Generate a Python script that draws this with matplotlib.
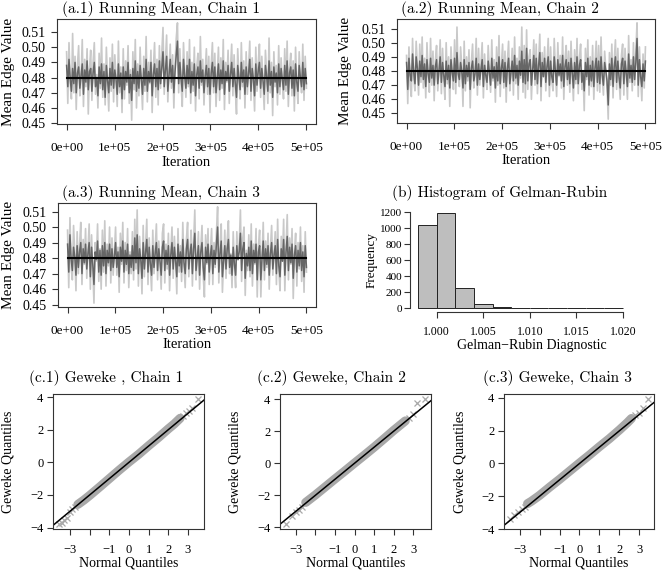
import numpy as np
import matplotlib
matplotlib.use('Agg')
import matplotlib.pyplot as plt

plt.rcParams['font.family'] = ['Liberation Serif', 'DejaVu Serif']

W, H = 662, 573

# running-mean traces, 200 thinned points per chain (light = raw, dark = smoothed)
light_1 = [0.497, 0.463, 0.503, 0.476, 0.466, 0.509, 0.470, 0.494, 0.459, 0.488, 0.501, 0.468, 0.479, 0.505, 0.461, 0.492, 0.474, 0.499, 0.456, 0.486,
           0.498, 0.465, 0.490, 0.503, 0.469, 0.482, 0.460, 0.496, 0.473, 0.506, 0.467, 0.489, 0.462, 0.500, 0.477, 0.458, 0.493, 0.471, 0.502, 0.464,
           0.495, 0.480, 0.461, 0.504, 0.470, 0.487, 0.457, 0.499, 0.466, 0.491, 0.475, 0.501, 0.463, 0.485, 0.452, 0.497, 0.472, 0.505, 0.460, 0.489,
           0.468, 0.500, 0.478, 0.459, 0.494, 0.471, 0.507, 0.464, 0.490, 0.476, 0.498, 0.457, 0.486, 0.503, 0.467, 0.492, 0.462, 0.501, 0.473, 0.496,
           0.513, 0.469, 0.491, 0.508, 0.464, 0.485, 0.502, 0.473, 0.495, 0.460, 0.488, 0.506, 0.516, 0.470, 0.499, 0.476, 0.461, 0.503, 0.482, 0.467,
           0.497, 0.474, 0.505, 0.463, 0.490, 0.471, 0.500, 0.458, 0.487, 0.496, 0.466, 0.507, 0.475, 0.492, 0.462, 0.484, 0.499, 0.469, 0.494, 0.457,
           0.488, 0.503, 0.470, 0.496, 0.461, 0.481, 0.500, 0.465, 0.493, 0.473, 0.505, 0.459, 0.490, 0.477, 0.498, 0.463, 0.486, 0.502, 0.468, 0.495,
           0.472, 0.456, 0.499, 0.480, 0.466, 0.503, 0.474, 0.491, 0.460, 0.497, 0.469, 0.487, 0.504, 0.465, 0.493, 0.478, 0.458, 0.500, 0.471, 0.489,
           0.502, 0.467, 0.494, 0.476, 0.459, 0.498, 0.483, 0.463, 0.506, 0.470, 0.490, 0.455, 0.497, 0.474, 0.488, 0.462, 0.501, 0.469, 0.493, 0.478,
           0.466, 0.499, 0.471, 0.504, 0.461, 0.486, 0.496, 0.468, 0.491, 0.458, 0.500, 0.475, 0.463, 0.497, 0.480, 0.470, 0.502, 0.465, 0.494, 0.473]
dark_1 = [0.488, 0.474, 0.492, 0.479, 0.471, 0.486, 0.476, 0.490, 0.470, 0.483, 0.487, 0.473, 0.481, 0.489, 0.469, 0.485, 0.477, 0.491, 0.472, 0.484,
          0.486, 0.471, 0.483, 0.490, 0.474, 0.480, 0.468, 0.487, 0.476, 0.489, 0.472, 0.484, 0.467, 0.488, 0.478, 0.470, 0.486, 0.475, 0.490, 0.473,
          0.485, 0.479, 0.469, 0.489, 0.474, 0.483, 0.466, 0.487, 0.472, 0.484, 0.477, 0.490, 0.470, 0.482, 0.465, 0.486, 0.476, 0.491, 0.471, 0.484,
          0.473, 0.488, 0.479, 0.469, 0.486, 0.475, 0.492, 0.471, 0.484, 0.477, 0.490, 0.468, 0.482, 0.489, 0.474, 0.486, 0.472, 0.491, 0.476, 0.487,
          0.497, 0.474, 0.485, 0.494, 0.471, 0.482, 0.492, 0.477, 0.488, 0.470, 0.484, 0.495, 0.504, 0.476, 0.490, 0.479, 0.471, 0.492, 0.481, 0.473,
          0.488, 0.476, 0.492, 0.470, 0.484, 0.475, 0.489, 0.468, 0.482, 0.487, 0.473, 0.491, 0.477, 0.485, 0.470, 0.481, 0.488, 0.474, 0.486, 0.469,
          0.483, 0.490, 0.474, 0.487, 0.470, 0.480, 0.489, 0.472, 0.485, 0.476, 0.491, 0.469, 0.484, 0.478, 0.488, 0.471, 0.482, 0.490, 0.474, 0.486,
          0.476, 0.467, 0.488, 0.480, 0.472, 0.490, 0.477, 0.485, 0.469, 0.487, 0.474, 0.483, 0.492, 0.471, 0.486, 0.479, 0.468, 0.489, 0.475, 0.484,
          0.490, 0.473, 0.486, 0.478, 0.469, 0.488, 0.481, 0.471, 0.491, 0.475, 0.484, 0.467, 0.487, 0.477, 0.483, 0.470, 0.489, 0.474, 0.486, 0.479,
          0.472, 0.488, 0.475, 0.491, 0.469, 0.483, 0.487, 0.473, 0.485, 0.468, 0.489, 0.477, 0.471, 0.488, 0.480, 0.474, 0.490, 0.472, 0.486, 0.476]
light_2 = [0.491, 0.457, 0.497, 0.470, 0.462, 0.503, 0.475, 0.466, 0.501, 0.484, 0.463, 0.499, 0.472, 0.504, 0.468, 0.489, 0.461, 0.500, 0.477, 0.465,
           0.503, 0.470, 0.494, 0.459, 0.487, 0.498, 0.466, 0.481, 0.502, 0.464, 0.496, 0.474, 0.460, 0.500, 0.471, 0.490, 0.455, 0.497, 0.479, 0.467,
           0.502, 0.464, 0.511, 0.476, 0.469, 0.497, 0.483, 0.455, 0.501, 0.466, 0.490, 0.473, 0.495, 0.454, 0.486, 0.499, 0.468, 0.478, 0.503, 0.463,
           0.496, 0.470, 0.485, 0.500, 0.461, 0.492, 0.476, 0.467, 0.498, 0.480, 0.465, 0.502, 0.473, 0.488, 0.458, 0.497, 0.470, 0.505, 0.462, 0.484,
           0.499, 0.468, 0.494, 0.458, 0.487, 0.501, 0.466, 0.479, 0.496, 0.463, 0.504, 0.471, 0.489, 0.460, 0.497, 0.475, 0.511, 0.465, 0.498, 0.461,
           0.509, 0.467, 0.490, 0.495, 0.460, 0.483, 0.502, 0.470, 0.499, 0.464, 0.487, 0.506, 0.459, 0.493, 0.476, 0.497, 0.466, 0.485, 0.503, 0.462,
           0.497, 0.473, 0.466, 0.503, 0.481, 0.462, 0.500, 0.476, 0.491, 0.468, 0.504, 0.460, 0.488, 0.498, 0.470, 0.494, 0.465, 0.501, 0.478, 0.459,
           0.495, 0.471, 0.503, 0.464, 0.489, 0.499, 0.467, 0.480, 0.452, 0.496, 0.474, 0.502, 0.463, 0.490, 0.469, 0.498, 0.460, 0.485, 0.501, 0.466,
           0.498, 0.465, 0.504, 0.476, 0.463, 0.494, 0.482, 0.469, 0.446, 0.493, 0.470, 0.499, 0.461, 0.487, 0.502, 0.467, 0.496, 0.474, 0.460, 0.491,
           0.499, 0.463, 0.496, 0.478, 0.460, 0.505, 0.472, 0.488, 0.466, 0.500, 0.470, 0.494, 0.514, 0.462, 0.497, 0.475, 0.459, 0.492, 0.468, 0.497]
dark_2 = [0.486, 0.467, 0.489, 0.477, 0.473, 0.492, 0.479, 0.471, 0.490, 0.482, 0.470, 0.487, 0.476, 0.491, 0.474, 0.485, 0.469, 0.488, 0.478, 0.472,
          0.489, 0.475, 0.484, 0.470, 0.483, 0.488, 0.471, 0.480, 0.490, 0.472, 0.486, 0.477, 0.469, 0.487, 0.474, 0.484, 0.468, 0.488, 0.479, 0.473,
          0.489, 0.472, 0.493, 0.478, 0.474, 0.486, 0.480, 0.468, 0.488, 0.471, 0.484, 0.476, 0.486, 0.467, 0.482, 0.487, 0.473, 0.478, 0.489, 0.470,
          0.485, 0.474, 0.481, 0.488, 0.469, 0.484, 0.477, 0.472, 0.487, 0.479, 0.470, 0.489, 0.475, 0.483, 0.468, 0.486, 0.473, 0.490, 0.471, 0.482,
          0.488, 0.472, 0.486, 0.469, 0.482, 0.489, 0.471, 0.479, 0.487, 0.473, 0.491, 0.475, 0.484, 0.470, 0.487, 0.477, 0.494, 0.472, 0.488, 0.471,
          0.496, 0.473, 0.485, 0.488, 0.470, 0.481, 0.491, 0.474, 0.489, 0.471, 0.484, 0.493, 0.469, 0.486, 0.476, 0.489, 0.472, 0.483, 0.490, 0.470,
          0.487, 0.476, 0.472, 0.490, 0.480, 0.470, 0.488, 0.477, 0.485, 0.473, 0.491, 0.469, 0.483, 0.488, 0.474, 0.486, 0.471, 0.489, 0.478, 0.468,
          0.486, 0.474, 0.490, 0.471, 0.484, 0.488, 0.472, 0.479, 0.466, 0.486, 0.476, 0.489, 0.470, 0.484, 0.473, 0.487, 0.469, 0.482, 0.489, 0.472,
          0.487, 0.471, 0.490, 0.477, 0.470, 0.486, 0.480, 0.473, 0.456, 0.485, 0.474, 0.489, 0.469, 0.483, 0.490, 0.472, 0.487, 0.476, 0.468, 0.485,
          0.489, 0.471, 0.487, 0.478, 0.469, 0.492, 0.475, 0.484, 0.472, 0.490, 0.474, 0.486, 0.503, 0.470, 0.488, 0.476, 0.469, 0.485, 0.473, 0.487]
light_3 = [0.498, 0.461, 0.506, 0.474, 0.466, 0.501, 0.483, 0.459, 0.497, 0.470, 0.488, 0.503, 0.463, 0.492, 0.476, 0.499, 0.467, 0.485, 0.502, 0.460,
           0.495, 0.472, 0.451, 0.490, 0.478, 0.502, 0.465, 0.486, 0.460, 0.498, 0.471, 0.504, 0.462, 0.489, 0.475, 0.500, 0.464, 0.493, 0.469, 0.483,
           0.500, 0.469, 0.487, 0.458, 0.496, 0.476, 0.503, 0.464, 0.490, 0.472, 0.499, 0.461, 0.484, 0.470, 0.497, 0.466, 0.505, 0.473, 0.511, 0.462,
           0.494, 0.479, 0.457, 0.501, 0.468, 0.488, 0.505, 0.463, 0.493, 0.475, 0.459, 0.498, 0.470, 0.486, 0.502, 0.466, 0.491, 0.477, 0.460, 0.496,
           0.502, 0.464, 0.489, 0.473, 0.496, 0.459, 0.484, 0.500, 0.467, 0.494, 0.478, 0.457, 0.499, 0.471, 0.488, 0.465, 0.503, 0.475, 0.461, 0.492,
           0.503, 0.468, 0.485, 0.498, 0.462, 0.490, 0.511, 0.466, 0.480, 0.497, 0.460, 0.487, 0.501, 0.469, 0.455, 0.495, 0.476, 0.499, 0.463, 0.484,
           0.499, 0.463, 0.490, 0.474, 0.496, 0.513, 0.464, 0.486, 0.502, 0.458, 0.478, 0.498, 0.467, 0.492, 0.504, 0.470, 0.483, 0.461, 0.497, 0.474,
           0.461, 0.497, 0.479, 0.488, 0.511, 0.465, 0.493, 0.500, 0.456, 0.485, 0.472, 0.495, 0.468, 0.502, 0.462, 0.489, 0.476, 0.499, 0.455, 0.487,
           0.498, 0.455, 0.480, 0.503, 0.466, 0.491, 0.474, 0.496, 0.460, 0.486, 0.501, 0.469, 0.483, 0.497, 0.463, 0.505, 0.472, 0.459, 0.494, 0.478,
           0.505, 0.459, 0.487, 0.508, 0.466, 0.493, 0.476, 0.499, 0.454, 0.484, 0.496, 0.462, 0.490, 0.473, 0.500, 0.465, 0.488, 0.458, 0.497, 0.471]
dark_3 = [0.489, 0.471, 0.495, 0.479, 0.472, 0.487, 0.481, 0.469, 0.488, 0.474, 0.484, 0.490, 0.470, 0.486, 0.477, 0.489, 0.473, 0.483, 0.490, 0.468,
          0.487, 0.476, 0.463, 0.484, 0.479, 0.491, 0.471, 0.485, 0.469, 0.488, 0.475, 0.490, 0.470, 0.485, 0.477, 0.489, 0.472, 0.486, 0.474, 0.481,
          0.490, 0.474, 0.484, 0.468, 0.487, 0.478, 0.491, 0.471, 0.485, 0.476, 0.489, 0.470, 0.482, 0.474, 0.488, 0.472, 0.493, 0.477, 0.495, 0.470,
          0.486, 0.479, 0.467, 0.490, 0.473, 0.484, 0.492, 0.471, 0.487, 0.476, 0.469, 0.488, 0.474, 0.483, 0.490, 0.472, 0.486, 0.478, 0.469, 0.487,
          0.491, 0.472, 0.485, 0.476, 0.488, 0.469, 0.482, 0.490, 0.473, 0.487, 0.478, 0.468, 0.489, 0.475, 0.484, 0.471, 0.492, 0.477, 0.470, 0.486,
          0.492, 0.473, 0.483, 0.489, 0.470, 0.486, 0.496, 0.472, 0.480, 0.488, 0.469, 0.484, 0.490, 0.474, 0.466, 0.487, 0.477, 0.489, 0.471, 0.482,
          0.488, 0.470, 0.485, 0.476, 0.489, 0.500, 0.471, 0.483, 0.491, 0.468, 0.478, 0.488, 0.473, 0.486, 0.492, 0.474, 0.482, 0.469, 0.487, 0.476,
          0.469, 0.488, 0.479, 0.484, 0.496, 0.472, 0.486, 0.490, 0.467, 0.483, 0.475, 0.487, 0.472, 0.491, 0.470, 0.485, 0.477, 0.489, 0.466, 0.484,
          0.488, 0.466, 0.480, 0.491, 0.472, 0.486, 0.476, 0.488, 0.469, 0.483, 0.490, 0.473, 0.482, 0.488, 0.470, 0.492, 0.475, 0.468, 0.486, 0.478,
          0.492, 0.469, 0.484, 0.494, 0.472, 0.487, 0.477, 0.489, 0.467, 0.482, 0.488, 0.471, 0.485, 0.475, 0.490, 0.472, 0.484, 0.468, 0.488, 0.474]
grand_mean = 0.48
n_iter = 5e5
iter_ticks = [0, 1e5, 2e5, 3e5, 4e5, 5e5]
iter_labels = ["0e+00", "1e+05", "2e+05", "3e+05", "4e+05", "5e+05"]
mean_ticks = [0.45, 0.46, 0.47, 0.48, 0.49, 0.50, 0.51]

# gelman-rubin histogram
gr_left = [0.998, 1.000, 1.002, 1.004, 1.006, 1.008, 1.010, 1.012, 1.014, 1.016, 1.018]
gr_counts = [1040, 1190, 250, 50, 12, 4, 2, 1, 1, 1, 1]
gr_width = 0.002
gr_xticks = [1.000, 1.005, 1.010, 1.015, 1.020]
gr_yticks = [0, 200, 400, 600, 800, 1000, 1200]

# geweke qq points (normal quantile, geweke z)
nq_1 = [-3.58, -3.42, -3.30, -3.15, -3.02, -2.90, -2.75, -2.60, -2.3, -2.0, -1.5, -1.0, -0.5,
        0.0, 0.5, 1.0, 1.5, 2.0, 2.3, 2.6, 2.75, 2.9, 3.05, 3.2, 3.53]
gq_1 = [-3.78, -3.70, -3.55, -3.40, -3.05, -2.88, -2.72, -2.58, -2.32, -2.03, -1.52, -1.0, -0.48,
        0.02, 0.5, 1.02, 1.52, 2.05, 2.35, 2.7, 2.85, 3.0, 3.15, 3.3, 3.88]
nq_2 = [-3.53, -3.2, -3.0, -2.85, -2.7, -2.5, -2.0, -1.5, -1.0, -0.5, 0.0, 0.5, 1.0, 1.5,
        2.0, 2.4, 2.6, 2.8, 3.0, 3.2, 3.63]
gq_2 = [-3.8, -3.3, -3.05, -2.95, -2.75, -2.45, -1.98, -1.48, -0.98, -0.49, 0.01, 0.5, 1.0, 1.52,
        2.05, 2.45, 2.65, 2.85, 3.1, 3.75, 4.02]
nq_3 = [-3.5, -3.3, -3.1, -2.9, -2.75, -2.6, -2.4, -2.0, -1.5, -1.0, -0.5, 0.0, 0.5, 1.0, 1.5,
        2.0, 2.4, 2.6, 2.8, 3.0, 3.2, 3.45]
gq_3 = [-3.4, -3.15, -2.95, -2.8, -2.65, -2.45, -2.3, -1.95, -1.45, -0.97, -0.47, 0.03, 0.52,
        1.03, 1.52, 2.05, 2.5, 2.75, 2.95, 3.1, 3.4, 3.95]
qq_xticks = [-3, -2, -1, 0, 1, 2, 3]
qq_xlabels = ["\u22123", "", "\u22121", "0", "1", "2", "3"]
qq_yticks = [-4, -2, 0, 2, 4]
qq_ylabels = ["\u22124", "\u22122", "0", "2", "4"]

TITLE_FONT = 'cmr10'


def add_box(fig, l, t, r, b):
    return fig.add_axes([l / W, 1 - b / H, (r - l) / W, (b - t) / H])


def label(fig, x, y, text, size, rot=0, family=None):
    kw = {}
    if family:
        kw['family'] = family
    fig.text(x / W, 1 - y / H, text, ha='center', va='center', rotation=rot, fontsize=size, **kw)


def style_box(ax):
    for sp in ax.spines.values():
        sp.set_linewidth(0.8)
        sp.set_color('#333333')
    ax.tick_params(direction='out', length=4, width=0.8, colors='#333333', labelcolor='black')


def running_panel(fig, box, light, dark, title, title_x, title_y, ylab_x):
    ax = add_box(fig, *box)
    it = np.linspace(0, n_iter, len(light))
    ax.plot(it, light, color='#c9c9c9', lw=1.2)
    ax.plot(np.linspace(0, n_iter, len(dark)), dark, color='#666666', lw=1.1)
    ax.plot([it[0], it[-1]], [grand_mean, grand_mean], color='black', lw=1.5)
    ax.margins(x=0.04, y=0.04)
    ax.set_xticks(iter_ticks)
    ax.set_xticklabels(iter_labels, fontsize=9.5)
    ax.set_yticks(mean_ticks)
    ax.set_yticklabels(["%.2f" % v for v in mean_ticks], fontsize=10)
    style_box(ax)
    ax.tick_params(axis='x', pad=9)
    ax.tick_params(axis='y', pad=4)
    l, t, r, b = box
    label(fig, title_x, title_y, title, 11, family=TITLE_FONT)
    label(fig, ylab_x, (t + b) / 2, "Mean Edge Value", 11, rot=90)
    label(fig, (l + r) / 2, b + 38, "Iteration", 10.5)
    return ax


def qq_panel(fig, box, nq, gq, title, title_x, ylab_x):
    ax = add_box(fig, *box)
    nq = np.array(nq)
    gq = np.array(gq)
    core = np.abs(nq) <= 2.65
    ax.plot(nq[core], gq[core], color='#a8a8a8', lw=6.5, solid_capstyle='round')
    ax.plot(nq[~core], gq[~core], 'x', color='#a8a8a8', ms=5, mew=0.9)
    ax.margins(x=0.04, y=0.04)
    ax.axline((0, 0), slope=1, color='black', lw=1.1)
    ax.set_xticks(qq_xticks)
    ax.set_xticklabels(qq_xlabels, fontsize=9)
    ax.set_yticks(qq_yticks)
    ax.set_yticklabels(qq_ylabels, fontsize=9)
    style_box(ax)
    ax.tick_params(axis='x', pad=7)
    ax.tick_params(axis='y', pad=3)
    l, t, r, b = box
    label(fig, title_x, 378, title, 11, family=TITLE_FONT)
    label(fig, ylab_x, (t + b) / 2, "Geweke Quantiles", 10, rot=90)
    label(fig, (l + r) / 2, 563, "Normal Quantiles", 10)
    return ax


fig = plt.figure(figsize=(W / 100, H / 100), dpi=100)

running_panel(fig, (57, 19, 316, 124), light_1, dark_1, "(a.1) Running Mean, Chain 1", 161, 9, 9)
running_panel(fig, (397, 19, 655, 123), light_2, dark_2, "(a.2) Running Mean, Chain 2", 500, 9, 345)
running_panel(fig, (58, 203, 316, 307), light_3, dark_3, "(a.3) Running Mean, Chain 3", 161, 193, 9)

# histogram of gelman-rubin
axh = add_box(fig, 410, 209, 631, 312)
axh.bar(gr_left, gr_counts, width=gr_width, align='edge', color='#bebebe',
        edgecolor='#222222', linewidth=0.7)
axh.set_xlim(gr_left[0] - 0.04 * 0.022, gr_left[-1] + gr_width + 0.04 * 0.022)
axh.set_ylim(-0.04 * max(gr_counts), 1.04 * max(gr_counts))
axh.spines['top'].set_visible(False)
axh.spines['right'].set_visible(False)
axh.spines['left'].set_bounds(gr_yticks[0], gr_yticks[-1])
axh.spines['bottom'].set_bounds(gr_xticks[0], gr_xticks[-1])
axh.set_xticks(gr_xticks)
axh.set_xticklabels(["%.3f" % v for v in gr_xticks], fontsize=8.5)
axh.set_yticks(gr_yticks)
axh.set_yticklabels([str(v) for v in gr_yticks], fontsize=8)
style_box(axh)
axh.tick_params(axis='x', pad=6)
axh.tick_params(axis='y', pad=1.5)
label(fig, 500, 193, "(b) Histogram of Gelman-Rubin", 11, family=TITLE_FONT)
label(fig, 372, 260, "Frequency", 9.5, rot=90)
label(fig, 532, 346, "Gelman\u2212Rubin Diagnostic", 10)

qq_panel(fig, (53, 394, 204, 529), nq_1, gq_1, "(c.1) Geweke , Chain 1", 106, 8)
qq_panel(fig, (280, 394, 431, 529), nq_2, gq_2, "(c.2) Geweke, Chain 2", 331, 235)
qq_panel(fig, (504, 394, 654, 529), nq_3, gq_3, "(c.3) Geweke, Chain 3", 557, 460)

fig.savefig("out.png", dpi=100)
